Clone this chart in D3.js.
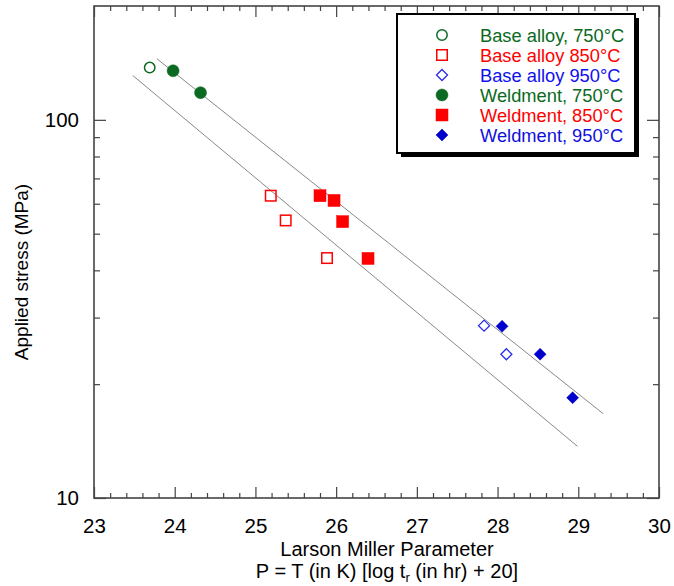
<!DOCTYPE html>
<html><head><meta charset="utf-8">
<script src="https://cdn.jsdelivr.net/npm/d3@7"></script>
<style>body{margin:0;background:#fff}svg{display:block}text{font-family:"Liberation Sans",Arial,sans-serif}</style>
</head><body>
<script>
// ---- data ----
const xTicks = [23, 24, 25, 26, 27, 28, 29, 30];
const yTickLabels = [10, 100];
const yMinorTicks = [20, 30, 40, 50, 60, 70, 80, 90];
const baseAlloy750 = [[23.69, 137.5]];
const baseAlloy850 = [[25.19, 63.0], [25.375, 54.2], [25.887, 43.1]];
const baseAlloy950 = [[27.833, 28.56], [28.109, 24.0]];
const weldment750 = [[23.98, 134.8], [24.32, 118]];
const weldment850 = [[25.80, 63.0], [25.974, 61.2], [26.08, 53.8], [26.395, 43.0]];
const weldment950 = [[28.056, 28.45], [28.527, 24.0], [28.93, 18.42]];
const upperLine = [[23.78, 145], [29.31, 16.7]];
const lowerLine = [[23.48, 131], [28.99, 13.7]];
const legendLabels = ["Base alloy, 750°C", "Base alloy 850°C", "Base alloy 950°C", "Weldment, 750°C", "Weldment, 850°C", "Weldment, 950°C"];

(function () {
const W = 674, H = 586;
const green = "#0a6a22", red = "#ff0000", blue = "#0000cc";
const series = [
  {data: baseAlloy750, shape: "circle", filled: false, color: green},
  {data: baseAlloy850, shape: "square", filled: false, color: red},
  {data: baseAlloy950, shape: "diamond", filled: false, color: "#2a2aee"},
  {data: weldment750, shape: "circle", filled: true, color: green},
  {data: weldment850, shape: "square", filled: true, color: red},
  {data: weldment950, shape: "diamond", filled: true, color: blue}
];
const legendColors = [green, red, "#1010ee", green, red, "#1010dd"];

const svg = d3.select("body").append("svg").attr("width", W).attr("height", H);
const L = 94, R = 659, T = 6, B = 498;
const x = d3.scaleLinear().domain([23, 30]).range([L, R]);
const y = d3.scaleLog().domain([10, 200]).range([B, T]);

// guide lines
const line = d3.line().x(d => x(d[0])).y(d => y(d[1]));
[upperLine, lowerLine].forEach(l => svg.append("path").attr("d", line(l)).attr("fill", "none").attr("stroke", "#888").attr("stroke-width", 1));

// markers
function marker(g, shape, filled, color) {
  if (shape === "circle") {
    g.append("circle").attr("r", filled ? 6 : 5.2)
      .attr("fill", filled ? color : "none").attr("stroke", color).attr("stroke-width", filled ? 0.5 : 1.5);
  } else if (shape === "square") {
    const s = filled ? 12 : 10.5;
    g.append("rect").attr("x", -s/2).attr("y", -s/2).attr("width", s).attr("height", s)
      .attr("fill", filled ? color : "none").attr("stroke", color).attr("stroke-width", filled ? 0.5 : 1.5);
  } else {
    const s = filled ? 6 : 5.5;
    g.append("path").attr("d", `M0,${-s}L${s},0L0,${s}L${-s},0Z`)
      .attr("fill", filled ? color : "none").attr("stroke", color).attr("stroke-width", filled ? 0.5 : 1.3);
  }
}
series.forEach(s => {
  s.data.forEach(d => {
    const g = svg.append("g").attr("transform", `translate(${x(d[0])},${y(d[1])})`);
    marker(g, s.shape, s.filled, s.color);
  });
});

// axes
const axisColor = "#444";
const xMinor = d3.range(23, 30.001, 0.2).filter(v => Math.abs(v - Math.round(v)) > 0.01);
svg.append("g").attr("transform", `translate(0,${B})`)
  .call(d3.axisBottom(x).tickValues(xTicks).tickSize(-11).tickPadding(20).tickFormat(d3.format("d")));
svg.append("g").attr("transform", `translate(0,${T})`)
  .call(d3.axisTop(x).tickValues(xTicks).tickSize(-11).tickFormat(""));
svg.append("g").attr("transform", `translate(0,${B})`).call(d3.axisBottom(x).tickValues(xMinor).tickSize(-5).tickFormat(""));
svg.append("g").attr("transform", `translate(0,${T})`).call(d3.axisTop(x).tickValues(xMinor).tickSize(-5).tickFormat(""));
svg.append("g").attr("transform", `translate(${L},0)`)
  .call(d3.axisLeft(y).tickValues(yTickLabels).tickSize(-12).tickPadding(15).tickFormat(d3.format("d")));
svg.append("g").attr("transform", `translate(${R},0)`).call(d3.axisRight(y).tickValues(yTickLabels).tickSize(-12).tickFormat(""));
svg.append("g").attr("transform", `translate(${L},0)`).call(d3.axisLeft(y).tickValues(yMinorTicks).tickSize(-6).tickFormat(""));
svg.append("g").attr("transform", `translate(${R},0)`).call(d3.axisRight(y).tickValues(yMinorTicks).tickSize(-6).tickFormat(""));
svg.selectAll(".domain").remove();
svg.selectAll(".tick line").attr("stroke", axisColor).attr("stroke-width", 1.2);
svg.selectAll(".tick text").attr("font-size", 20.5).attr("fill", "#000").attr("font-family", '"Liberation Sans",Arial,sans-serif');
svg.append("rect").attr("x", L).attr("y", T).attr("width", R - L).attr("height", B - T)
  .attr("fill", "none").attr("stroke", axisColor).attr("stroke-width", 1.6);

// axis titles
svg.append("text").attr("x", 387).attr("y", 556).attr("text-anchor", "middle").attr("font-size", 20).text("Larson Miller Parameter");
const t2 = svg.append("text").attr("x", 387).attr("y", 578).attr("text-anchor", "middle").attr("font-size", 20);
t2.append("tspan").text("P = T (in K) [log t");
t2.append("tspan").attr("font-size", 13).attr("dy", 4).text("r");
t2.append("tspan").attr("dy", -4).text(" (in hr) + 20]");
svg.append("text").attr("transform", `translate(28,272) rotate(-90)`).attr("text-anchor", "middle").attr("font-size", 19).text("Applied stress (MPa)");

// legend
const lx = 397, ly = 14, lw = 238, lh = 139;
svg.append("rect").attr("x", lx + 4).attr("y", ly + 4).attr("width", lw).attr("height", lh).attr("fill", "#000");
svg.append("rect").attr("x", lx).attr("y", ly).attr("width", lw).attr("height", lh).attr("fill", "#fff").attr("stroke", "#000").attr("stroke-width", 2);
series.forEach((s, i) => {
  const cy = ly + 21 + i * 20;
  const g = svg.append("g").attr("transform", `translate(442,${cy})`);
  marker(g, s.shape, s.filled, s.color);
  svg.append("text").attr("x", 480).attr("y", cy + 6.5).attr("font-size", 18.3).attr("fill", legendColors[i]).text(legendLabels[i]);
});
})();
</script>
</body></html>
